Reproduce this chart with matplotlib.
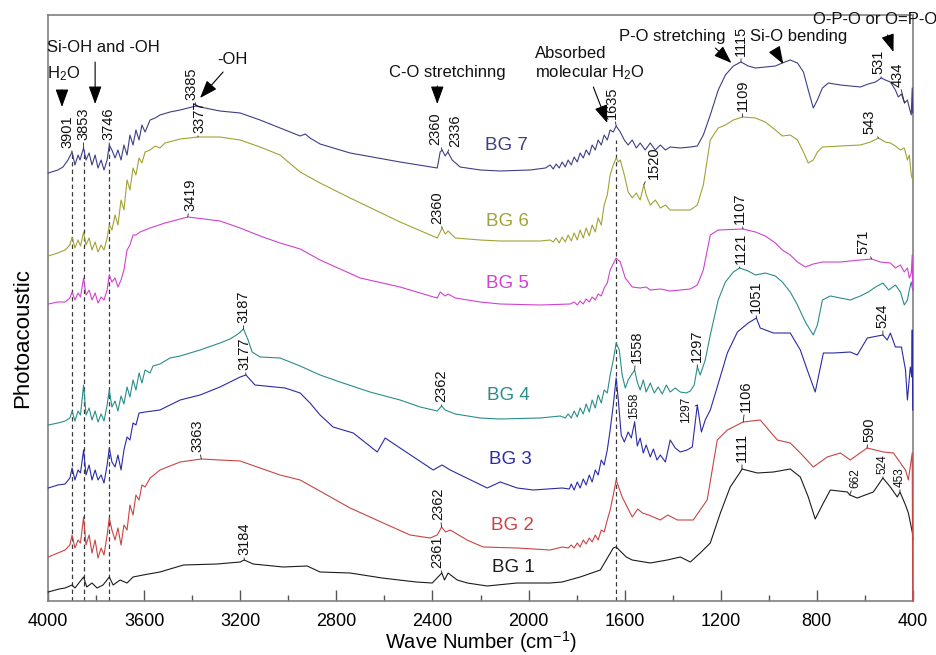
import numpy as np
import matplotlib
matplotlib.use("Agg")
import matplotlib.pyplot as plt
from matplotlib.ticker import MultipleLocator

plt.rcParams['font.family'] = ['Liberation Sans', 'DejaVu Sans']
plt.rcParams['mathtext.fontset'] = 'custom'
plt.rcParams['mathtext.rm'] = 'Liberation Sans'
plt.rcParams['mathtext.it'] = 'Liberation Sans:italic'
plt.rcParams['mathtext.bf'] = 'Liberation Sans:bold'

# ---- spectra: (wave number cm-1, photoacoustic signal, a.u. incl. stacking offset) ----
BG7 = [(4000,428),(3960,431),(3939,434),(3918,441),(3901,449),(3889,436),(3876,446),(3868,441),(3853,453),(3843,441),
       (3830,448),(3818,436),(3805,446),(3793,433),(3780,441),(3768,431),(3755,441),(3746,456),(3735,451),(3722,443),
       (3710,451),(3697,441),(3685,456),(3672,446),(3660,466),(3647,456),(3635,471),(3622,461),(3610,476),(3597,469),
       (3576,481),(3555,483),(3535,486),(3493,489),(3451,491),(3385,495),(3347,493),(3285,490),(3201,488),(3118,481),
       (3035,473),(2951,465),(2930,467),(2910,463),(2868,457),(2743,448),(2535,439),(2380,433),(2368,449),(2360,451),
       (2347,445),(2336,449),(2318,441),(2285,434),(2201,431),(2118,430),(1993,431),(1930,433),(1910,436),(1897,432),
       (1885,437),(1872,433),(1860,439),(1847,434),(1835,441),(1822,436),(1810,444),(1797,439),(1785,448),(1772,443),
       (1760,451),(1747,446),(1735,456),(1722,451),(1710,461),(1697,456),(1685,466),(1672,461),(1660,471),(1647,469),
       (1635,475),(1618,469),(1601,461),(1585,456),(1568,461),(1551,453),(1535,458),(1514,451),(1493,458),(1472,451),
       (1451,456),(1430,451),(1410,454),(1368,453),(1326,454),(1297,455),(1272,466),(1243,486),(1210,511),(1180,526),
       (1147,535),(1115,539),(1085,535),(1055,533),(1014,534),(972,535),(943,538),(910,541),(880,538),(855,529),
       (835,511),(814,493),(797,501),(776,513),(751,518),(701,516),(660,515),(618,514),(585,517),(555,519),
       (531,523),(514,521),(493,519),(472,511),(460,504),(447,507),(434,498),(422,501),(414,493),(406,486),
       (402,513),(400,488)]

BG6 = [(4000,345),(3960,348),(3930,351),(3910,356),(3901,364),(3889,353),(3876,361),(3866,355),(3853,369),(3843,356),
       (3830,363),(3818,351),(3805,359),(3793,349),(3780,356),(3768,351),(3755,363),(3746,376),(3735,371),(3722,386),
       (3710,376),(3697,401),(3685,391),(3672,421),(3660,411),(3647,433),(3635,426),(3622,443),(3610,438),(3597,449),
       (3576,451),(3555,455),(3535,453),(3514,458),(3451,462),(3377,464),(3285,464),(3201,461),(3118,454),(3035,446),
       (2951,429),(2868,418),(2743,403),(2535,379),(2380,363),(2360,373),(2347,367),(2335,370),(2305,363),(2201,361),
       (2118,360),(1951,360),(1910,361),(1897,359),(1885,363),(1872,358),(1860,364),(1847,359),(1835,366),(1822,360),
       (1810,368),(1797,361),(1785,371),(1772,363),(1760,373),(1747,365),(1735,376),(1722,369),(1710,383),(1697,376),
       (1685,396),(1672,406),(1660,426),(1647,436),(1635,443),(1626,439),(1618,441),(1601,426),(1585,409),(1568,403),
       (1551,408),(1535,401),(1520,416),(1510,406),(1493,396),(1472,401),(1451,393),(1430,396),(1410,391),(1368,391),
       (1326,391),(1297,396),(1272,416),(1243,461),(1210,473),(1180,476),(1147,481),(1109,484),(1055,483),(1014,479),
       (972,471),(943,465),(910,466),(880,461),(855,449),(835,438),(814,441),(797,449),(776,454),(701,455),
       (618,456),(576,459),(543,463),(514,459),(493,458),(472,455),(451,451),(435,453),(422,441),(414,446),
       (406,426),(400,421)]

BG5 = [(4000,297),(3960,299),(3930,299),(3910,303),(3901,309),(3889,301),(3876,308),(3866,304),(3853,323),(3843,306),
       (3830,311),(3818,301),(3805,308),(3793,298),(3780,304),(3768,301),(3755,311),(3746,326),(3735,319),(3722,323),
       (3710,314),(3697,321),(3685,331),(3672,351),(3660,356),(3647,366),(3635,366),(3618,369),(3576,373),(3514,378),
       (3419,384),(3350,382),(3285,380),(3201,373),(3118,365),(3035,358),(2951,352),(2868,341),(2701,323),(2535,314),
       (2410,305),(2380,303),(2368,309),(2347,305),(2335,307),(2305,303),(2201,299),(2118,297),(1951,296),(1826,297),
       (1810,299),(1797,296),(1785,300),(1772,297),(1760,302),(1747,299),(1735,304),(1722,301),(1710,307),(1697,305),
       (1685,313),(1672,318),(1660,331),(1635,343),(1618,339),(1597,323),(1568,314),(1535,313),(1510,314),(1493,311),
       (1450,312),(1410,310),(1326,312),(1297,316),(1272,331),(1243,366),(1210,371),(1107,372),(1055,369),(1014,365),
       (972,358),(943,351),(910,346),(880,339),(847,334),(814,337),(776,339),(701,339),(618,341),(571,342),
       (535,339),(493,338),(472,333),(451,336),(435,329),(422,333),(414,323),(406,328),(402,346),(400,311)]

BG4 = [(4000,176),(3960,178),(3930,180),(3910,183),(3901,190),(3889,180),(3876,190),(3866,186),(3853,216),(3843,186),
       (3830,193),(3818,181),(3805,190),(3793,179),(3780,187),(3768,180),(3755,196),(3746,211),(3735,194),(3722,200),
       (3710,190),(3697,205),(3685,197),(3672,214),(3660,204),(3647,221),(3635,211),(3622,228),(3610,218),(3597,231),
       (3576,228),(3564,235),(3535,237),(3493,243),(3451,245),(3368,251),(3285,258),(3243,262),(3210,267),(3187,272),
       (3168,261),(3151,249),(3118,244),(3035,243),(2993,239),(2951,235),(2868,226),(2785,219),(2660,209),(2535,201),
       (2451,194),(2380,190),(2362,195),(2347,191),(2305,187),(2201,183),(2118,182),(1951,183),(1868,185),(1847,183),
       (1835,187),(1822,183),(1810,190),(1797,184),(1785,193),(1772,187),(1760,197),(1747,189),(1735,201),(1722,193),
       (1710,206),(1697,198),(1685,211),(1672,208),(1660,226),(1647,241),(1635,258),(1622,251),(1610,226),(1597,213),
       (1585,221),(1572,226),(1558,231),(1547,219),(1535,211),(1522,221),(1510,209),(1493,218),(1476,208),(1460,214),
       (1443,207),(1426,216),(1410,209),(1389,213),(1368,209),(1343,208),(1326,210),(1310,216),(1297,234),(1285,226),
       (1264,241),(1243,266),(1210,301),(1180,319),(1147,329),(1121,333),(1085,330),(1055,326),(1014,328),(972,325),
       (943,319),(910,309),(880,296),(847,279),(814,266),(797,276),(776,301),(743,305),(701,303),(660,301),
       (618,305),(585,309),(555,314),(524,318),(500,311),(472,316),(451,309),(435,296),(422,301),(414,311),
       (406,319),(400,311)]

BG3 = [(4000,113),(3960,116),(3930,117),(3910,123),(3901,133),(3889,121),(3876,131),(3866,128),(3853,151),(3843,126),
       (3830,136),(3818,121),(3805,131),(3793,121),(3780,126),(3768,118),(3755,136),(3746,153),(3735,139),(3722,134),
       (3710,146),(3697,131),(3685,151),(3672,164),(3660,161),(3647,178),(3635,176),(3622,188),(3597,189),(3535,191),
       (3451,201),(3368,206),(3285,214),(3201,224),(3177,226),(3139,216),(3014,213),(2951,208),(2910,198),(2868,186),
       (2814,174),(2730,168),(2630,149),(2597,163),(2535,153),(2397,131),(2360,136),(2326,131),(2172,113),(2118,119),
       (2047,113),(1980,111),(1860,113),(1830,112),(1822,117),(1810,111),(1797,119),(1785,113),(1772,122),(1760,116),
       (1747,126),(1735,119),(1722,131),(1710,126),(1697,141),(1685,136),(1672,151),(1660,171),(1647,196),(1635,223),
       (1626,201),(1614,166),(1601,159),(1585,169),(1572,163),(1558,179),(1547,155),(1535,163),(1522,148),(1510,156),
       (1493,144),(1480,152),(1465,141),(1451,146),(1430,139),(1410,161),(1389,153),(1368,149),(1340,151),(1318,154),
       (1297,196),(1280,169),(1264,181),(1243,191),(1214,214),(1172,248),(1130,269),(1085,278),(1051,283),(1035,273),
       (980,268),(910,268),(868,251),(839,231),(806,209),(772,248),(730,248),(660,249),(631,246),(589,263),
       (524,266),(506,261),(493,268),(472,254),(447,254),(430,231),(422,201),(410,234),(404,224),(402,271),
       (400,191)]

BG2 = [(4000,44),(3960,48),(3930,51),(3910,56),(3901,66),(3889,53),(3876,61),(3866,58),(3853,84),(3843,56),
       (3830,66),(3818,48),(3805,61),(3793,43),(3780,53),(3768,46),(3755,66),(3746,83),(3735,71),(3722,61),
       (3710,73),(3697,56),(3685,76),(3672,71),(3660,96),(3647,86),(3635,106),(3622,101),(3610,116),(3597,114),
       (3576,123),(3535,131),(3493,135),(3451,139),(3363,142),(3285,141),(3201,140),(3118,133),(3035,126),(2951,121),
       (2743,93),(2605,78),(2493,66),(2410,63),(2380,66),(2362,74),(2345,69),(2326,71),(2256,61),(2189,54),
       (2047,53),(1910,51),(1860,54),(1835,53),(1822,56),(1810,53),(1797,58),(1785,54),(1772,61),(1760,57),
       (1747,63),(1735,59),(1722,66),(1710,61),(1697,71),(1685,69),(1672,81),(1660,91),(1647,106),(1635,121),
       (1610,104),(1568,84),(1545,92),(1526,88),(1500,86),(1451,81),(1420,86),(1380,81),(1314,81),(1256,101),
       (1214,161),(1172,171),(1106,179),(1035,181),(964,161),(910,158),(868,148),(814,134),(756,144),(701,148),
       (660,141),(590,153),(522,149),(480,148),(451,138),(430,131),(418,121),(402,148),(400,0)]

BG1 = [(4000,9),(3955,12),(3930,13),(3901,16),(3889,13),(3876,17),(3853,24),(3840,14),(3818,18),(3797,13),
       (3772,16),(3746,24),(3730,16),(3701,21),(3672,18),(3647,24),(3605,26),(3535,29),(3437,36),(3297,37),
       (3201,39),(3184,41),(3147,37),(3022,34),(2922,35),(2868,29),(2743,28),(2610,23),(2468,19),(2401,18),
       (2361,28),(2350,21),(2335,28),(2297,21),(2255,18),(2172,15),(2048,18),(1910,18),(1860,19),(1785,24),
       (1701,31),(1647,53),(1635,54),(1593,44),(1568,41),(1493,38),(1422,41),(1368,44),(1326,39),(1285,48),
       (1243,58),(1201,88),(1160,114),(1118,129),(1111,132),(1047,128),(980,129),(910,132),(868,124),(835,104),
       (806,82),(772,98),(743,111),(672,109),(662,106),(631,103),(564,109),(524,123),(493,114),(464,104),
       (453,109),(430,96),(418,88),(401,68),(400,61)]

SERIES = ['BG 1', 'BG 2', 'BG 3', 'BG 4', 'BG 5', 'BG 6', 'BG 7']
SPECTRA = dict(zip(SERIES, [BG1, BG2, BG3, BG4, BG5, BG6, BG7]))
COLORS = {'BG 1': '#1c1c1c', 'BG 2': '#c94444', 'BG 3': '#2b2ba6', 'BG 4': '#2b8c8c',
          'BG 5': '#cf42cf', 'BG 6': '#a2a236', 'BG 7': '#3e3e86'}

# assigned band positions (cm-1) for each sample
PEAKS = {
    'BG 7': [3901, 3853, 3746, 3385, 2360, 2336, 1635, 1115, 531, 434],
    'BG 6': [3377, 2360, 1520, 1109, 543],
    'BG 5': [3419, 1107, 571],
    'BG 4': [3187, 2362, 1558, 1297, 1121],
    'BG 3': [3177, 1558, 1297, 1051, 524],
    'BG 2': [3363, 2362, 1106, 590],
    'BG 1': [3184, 2361, 1111, 662, 524, 453],
}
# label placement: (dx px, gap px, small font)
LABEL_LAYOUT = {
    ('BG 7', 3901): (-5, 4, False), ('BG 7', 3853): (0, 8, False), ('BG 7', 3746): (-1, 5, False),
    ('BG 7', 3385): (-4, 6, False), ('BG 7', 2360): (-7, 5, False), ('BG 7', 2336): (7, 5, False),
    ('BG 7', 1635): (-4, 7, False), ('BG 7', 1115): (0, 6, False), ('BG 7', 531): (-3, 4, False),
    ('BG 7', 434): (-7, 16, False),
    ('BG 6', 3377): (2, 4, False), ('BG 6', 2360): (-5, 4, False), ('BG 6', 1520): (10, 6, False),
    ('BG 6', 1109): (0, 6, False), ('BG 6', 543): (-9, 4, False),
    ('BG 5', 3419): (3, 6, False), ('BG 5', 1107): (-3, 5, False), ('BG 5', 571): (-8, 5, False),
    ('BG 4', 3187): (0, 6, False), ('BG 4', 2362): (0, 4, False), ('BG 4', 1558): (2, 7, False),
    ('BG 4', 1297): (0, 5, False), ('BG 4', 1121): (1, 4, False),
    ('BG 3', 3177): (-1, 5, False), ('BG 3', 1558): (-1, 3, True), ('BG 3', 1297): (-11, -18, True),
    ('BG 3', 1051): (-1, 5, False), ('BG 3', 524): (0, 7, False),
    ('BG 2', 3363): (-4, 7, False), ('BG 2', 2362): (-3, 7, False), ('BG 2', 1106): (3, 10, False),
    ('BG 2', 590): (2, 6, False),
    ('BG 1', 3184): (0, 5, False), ('BG 1', 2361): (-5, 5, False), ('BG 1', 1111): (0, 7, False),
    ('BG 1', 662): (6, 7, True), ('BG 1', 524): (0, 4, True), ('BG 1', 453): (0, 5, True),
}
NAME_POS = {'BG 7': (2093, 456), 'BG 6': (2089, 380), 'BG 5': (2089, 318), 'BG 4': (2085, 206),
            'BG 3': (2076, 141), 'BG 2': (2068, 75), 'BG 1': (2064, 34)}

MARKER_LINES = [3901, 3853, 3746, 1635]
XTICKS = [4000, 3600, 3200, 2800, 2400, 2000, 1600, 1200, 800, 400]

# ---- figure ----
fig = plt.figure(figsize=(9.36, 6.55), dpi=100)
ax = fig.add_axes([48.3 / 936, 54 / 655, 864.4 / 936, 586 / 655])
ax.set_xlim(4000, 400)
ax.set_ylim(0, 586)


def curve(name):
    arr = np.array(SPECTRA[name], dtype=float)
    return arr[:, 0], arr[:, 1]


def value_at(name, wn):
    x, y = curve(name)
    return float(np.interp(wn, x[::-1], y[::-1]))


for name in SERIES:
    x, y = curve(name)
    ax.plot(x, y, color=COLORS[name], lw=0.8, zorder=3, clip_on=False)
    tx, ty = NAME_POS[name]
    ax.text(tx, ty, name, color=COLORS[name], fontsize=13.5, ha='center', va='center')

# dashed guide lines through the common bands
for wn in MARKER_LINES:
    top = value_at('BG 7', wn) - (14 if wn < 2000 else 2)
    ax.plot([wn, wn], [0, top], color='#3a3a3a', lw=0.9, ls=(0, (3.5, 2.5)), zorder=2)

# peak labels
for name in SERIES:
    for wn in PEAKS[name]:
        dx, gap, small = LABEL_LAYOUT[(name, wn)]
        ax.annotate(str(wn), xy=(wn, value_at(name, wn)), xytext=(dx, gap),
                    textcoords='offset pixels', rotation=90, ha='center', va='bottom',
                    fontsize=8.5 if small else 10.5, color='#111111', zorder=4,
                    arrowprops=dict(arrowstyle='-', lw=0.6, color='#222222',
                                    shrinkA=0, shrinkB=0))

# band assignments
txt = dict(fontsize=12, color='#111111', va='center', ha='left')
ax.text(4006, 553, 'Si-OH and -OH', **txt)
ax.text(4006, 527, r'H$_\mathregular{2}$O', **txt)
ax.text(3235, 541, '-OH', **{**txt, 'ha': 'center'})
ax.text(2339, 529, 'C-O stretchinng', **{**txt, 'ha': 'center'})
ax.text(1972, 547, 'Absorbed', **txt)
ax.text(1972, 528, r'molecular H$_\mathregular{2}$O', **txt)
ax.text(1622, 564, 'P-O stretching', **txt)
ax.text(1076, 564, 'Si-O bending', **txt)
ax.text(814, 581, 'O-P-O or O=P-O', clip_on=False, **txt)

arrows = [((3805, 539), (3805, 497)), ((3943, 511), (3943, 494)), ((3272, 529), (3368, 503)),
          ((2380, 515), (2380, 497)), ((1730, 514), (1672, 478)), ((1222, 553), (1155, 538)),
          ((974, 551), (939, 537)), ((505, 566), (480, 549))]
for (x0, y0), (x1, y1) in arrows:
    ax.annotate('', xy=(x1, y1), xytext=(x0, y0),
                arrowprops=dict(arrowstyle='-|>,head_length=1.1,head_width=0.4', color='k',
                                lw=0.8, shrinkA=0, shrinkB=0), annotation_clip=False)

# axes styling
for s in ax.spines.values():
    s.set_color('#808080')
    s.set_linewidth(1.2)
ax.set_yticks([])
ax.set_xticks(XTICKS)
ax.xaxis.set_minor_locator(MultipleLocator(200))
ax.tick_params(axis='x', which='major', direction='in', length=8, width=1.0, pad=9,
               labelsize=13, color='#555555')
ax.tick_params(axis='x', which='minor', direction='in', length=4.5, width=1.0, color='#555555')

ax.set_xlabel(r'Wave Number (cm$^{\mathregular{-1}}$)', fontsize=14.5)
ax.xaxis.label.set_va('center')
ax.xaxis.set_label_coords(0.5006, -0.0695)
ax.set_ylabel('Photoacoustic', fontsize=16)
ax.yaxis.label.set_va('center')
ax.yaxis.set_label_coords((23 - 48.3) / 864.4, 0.449)

fig.savefig('out.png', dpi=100)
